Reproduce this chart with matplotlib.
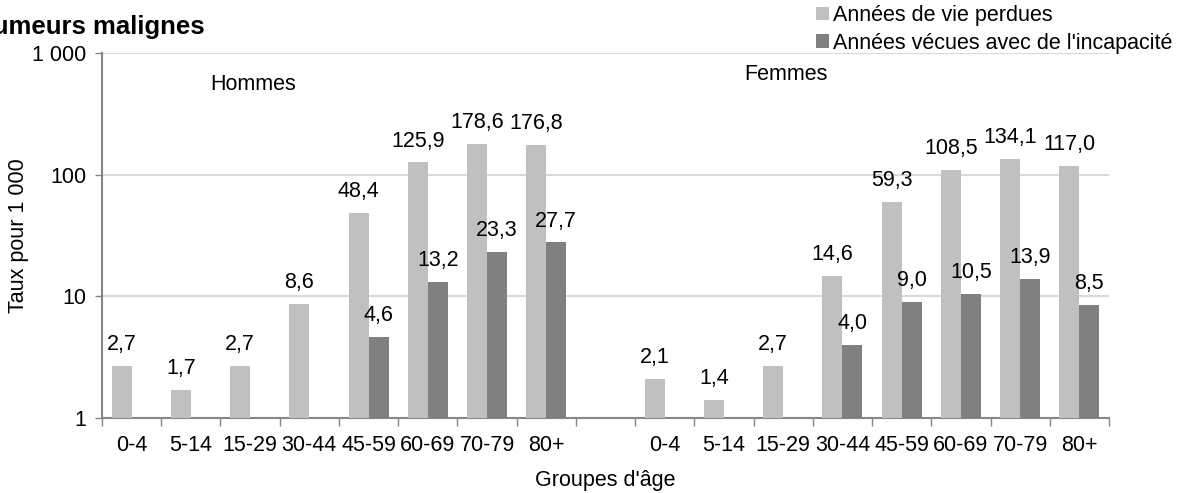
import matplotlib
matplotlib.use("Agg")
import matplotlib.pyplot as plt
import numpy as np
from matplotlib.patches import Patch

plt.rcParams['font.family'] = ['Liberation Sans', 'DejaVu Sans']

age_groups = ["0-4", "5-14", "15-29", "30-44", "45-59", "60-69", "70-79", "80+"]
sexes = ["Hommes", "Femmes"]
avp_hommes = [2.7, 1.7, 2.7, 8.6, 48.4, 125.9, 178.6, 176.8]
avi_hommes = [None, None, None, None, 4.6, 13.2, 23.3, 27.7]
avp_femmes = [2.1, 1.4, 2.7, 14.6, 59.3, 108.5, 134.1, 117.0]
avi_femmes = [None, None, None, 4.0, 9.0, 10.5, 13.9, 8.5]
series_names = ["Années de vie perdues", "Années vécues avec de l'incapacité"]
title = "Tumeurs malignes"
y_ticks = [1, 10, 100, 1000]
y_tick_labels = ["1", "10", "100", "1 000"]

c_light = "#C0C0C0"
c_dark = "#808080"
axis_col = "#868686"
grid_col = "#D9D9D9"
fs = 15.5

fig = plt.figure(figsize=(11.79, 4.93), dpi=100)
ax = fig.add_axes([102/1179, 75/493, (1109-102)/1179, (418-53)/493])

labels = age_groups + [""] + age_groups
avp = avp_hommes + [None] + avp_femmes
avi = avi_hommes + [None] + avi_femmes
x = np.arange(len(labels))
w = 0.338

def fmt(v):
    return f"{v:.1f}".replace(".", ",")

avp_x = [xi - w for xi, v in zip(x, avp) if v is not None]
avp_v = [v for v in avp if v is not None]
avi_x = [xi for xi, v in zip(x, avi) if v is not None]
avi_v = [v for v in avi if v is not None]
ax.bar(avp_x, avp_v, width=w, align='edge', color=c_light, zorder=3)
ax.bar(avi_x, avi_v, width=w, align='edge', color=c_dark, zorder=3)

for xx, v in list(zip(avp_x, avp_v)) + list(zip(avi_x, avi_v)):
    ax.annotate(fmt(v), (xx + w/2, v), xytext=(0, 11.5), textcoords='offset points',
                ha='center', va='baseline', fontsize=fs, color='black')

ax.set_yscale('log')
ax.set_ylim(1, 1000)
ax.set_xlim(-0.5, len(labels) - 0.5)
ax.set_yticks(y_ticks)
ax.set_yticklabels(y_tick_labels, fontsize=fs)
ax.yaxis.set_minor_locator(matplotlib.ticker.NullLocator())
ax.tick_params(axis='y', which='major', length=5, width=1, color=axis_col, direction='out', pad=6)
ax.set_xticks(x)
ax.set_xticklabels(labels, fontsize=fs)
ax.tick_params(axis='x', which='major', length=0, pad=12)
ax.set_xticks(np.arange(-0.5, len(labels)), minor=True)
ax.tick_params(axis='x', which='minor', length=6, width=1, color=axis_col, direction='out')

ax.grid(axis='y', which='major', color=grid_col, linewidth=1.5, zorder=0)
for s in ['top', 'right']:
    ax.spines[s].set_visible(False)
for s in ['left', 'bottom']:
    ax.spines[s].set_color(axis_col)
    ax.spines[s].set_linewidth(1.5)

ax.set_xlabel("Groupes d'âge", fontsize=fs, labelpad=10)
ax.set_ylabel("Taux pour 1 000", fontsize=fs, va='center', ha='center')
ax.yaxis.set_label_coords((19 - 102) / 1007, 0.5)

fig.text(253/1179, 1 - 84/493, sexes[0], fontsize=fs, ha='center', va='center')
fig.text(786/1179, 1 - 75/493, sexes[1], fontsize=fs, ha='center', va='center')

fig.text(205/1179, 1 - 27/493, title, fontsize=18.5, fontweight='bold', ha='right', va='center')

handles = [Patch(facecolor=c_light, edgecolor='none'), Patch(facecolor=c_dark, edgecolor='none')]
fig.legend(handles, series_names, loc='upper left', bbox_to_anchor=(814/1179, 1 - 3/493),
           frameon=False, fontsize=fs, handlelength=0.6, handleheight=0.6,
           handletextpad=0.2, labelspacing=0.3, borderaxespad=0.05, borderpad=0.05)

fig.savefig("out.png", dpi=100)
